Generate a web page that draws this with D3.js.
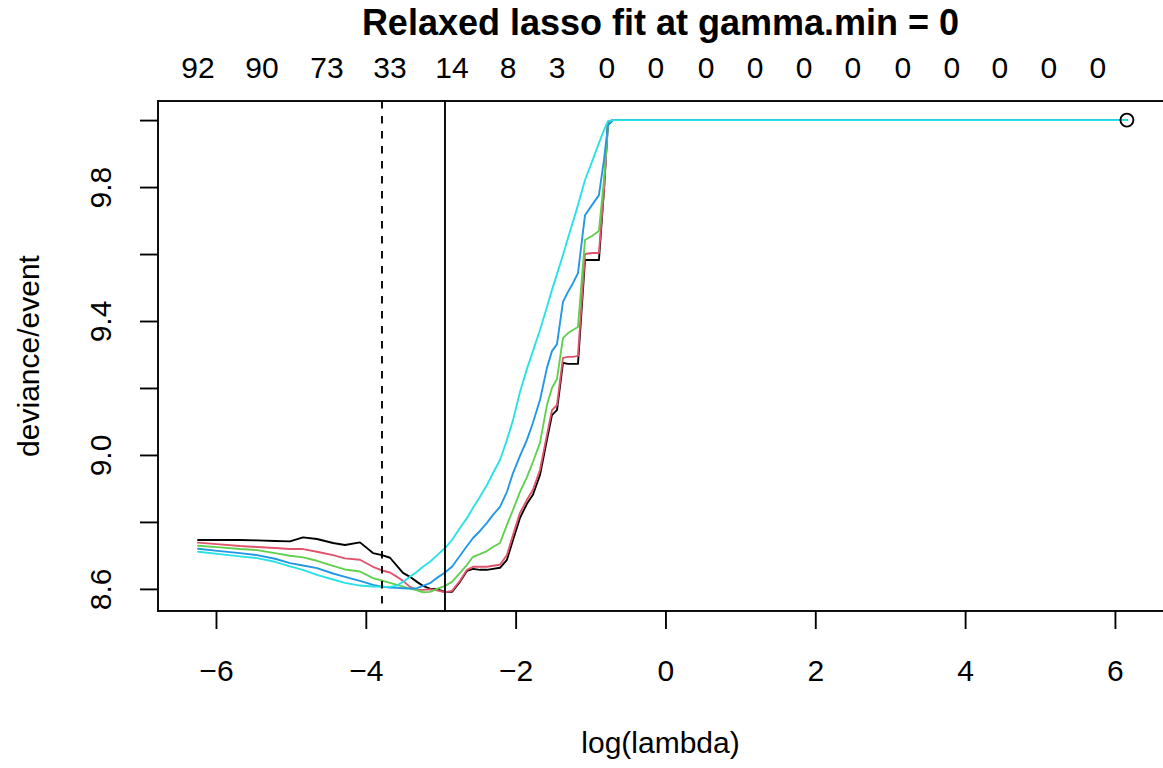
<!DOCTYPE html>
<html><head><meta charset="utf-8">
<script src="https://cdn.jsdelivr.net/npm/d3@7"></script>
<style>
body{margin:0;background:#fff}
svg{display:block}
text{font-family:"Liberation Sans",Arial,Helvetica,sans-serif;fill:#000}
</style>
</head><body><svg id="chart" width="1163" height="768"></svg>
<script>
// ---- data ----
const logLambda = [-6.240,-5.946,-5.679,-5.452,-5.212,-5.012,-4.838,-4.652,-4.438,-4.278,-4.078,-3.904,-3.784,-3.677,-3.584,-3.504,-3.410,-3.317,-3.237,-3.143,-3.050,-2.943,-2.850,-2.743,-2.649,-2.569,-2.476,-2.383,-2.302,-2.209,-2.116,-2.035,-1.942,-1.849,-1.769,-1.675,-1.582,-1.515,-1.448,-1.368,-1.301,-1.235,-1.168,-1.074,-0.981,-0.888,-0.821,-0.767,-0.701,6.160];
const devBlack = [8.746,8.746,8.746,8.745,8.743,8.742,8.754,8.749,8.737,8.731,8.739,8.707,8.701,8.693,8.669,8.648,8.636,8.621,8.609,8.601,8.599,8.591,8.591,8.621,8.654,8.660,8.657,8.657,8.660,8.663,8.687,8.746,8.812,8.854,8.881,8.940,9.045,9.119,9.134,9.275,9.272,9.272,9.272,9.582,9.582,9.582,9.791,9.994,10.000,10.000];
const devRed   = [8.738,8.733,8.728,8.725,8.722,8.719,8.719,8.711,8.701,8.691,8.687,8.666,8.655,8.649,8.636,8.624,8.606,8.597,8.597,8.599,8.596,8.590,8.594,8.624,8.657,8.666,8.666,8.666,8.669,8.672,8.701,8.761,8.827,8.866,8.896,8.955,9.060,9.134,9.149,9.290,9.293,9.293,9.296,9.600,9.603,9.603,9.791,9.994,10.000,10.000];
const devGreen = [8.729,8.724,8.719,8.716,8.707,8.699,8.694,8.684,8.669,8.658,8.652,8.632,8.625,8.618,8.612,8.607,8.601,8.596,8.590,8.591,8.600,8.609,8.621,8.648,8.672,8.696,8.704,8.713,8.725,8.737,8.791,8.836,8.890,8.934,8.979,9.036,9.149,9.200,9.227,9.349,9.364,9.373,9.382,9.642,9.654,9.669,9.821,9.985,10.000,10.000];
const devBlue  = [8.720,8.713,8.707,8.701,8.690,8.677,8.670,8.662,8.646,8.636,8.624,8.612,8.607,8.604,8.603,8.602,8.601,8.602,8.609,8.617,8.633,8.649,8.666,8.699,8.728,8.752,8.773,8.797,8.821,8.845,8.890,8.946,8.997,9.045,9.096,9.164,9.260,9.310,9.331,9.457,9.487,9.513,9.543,9.716,9.746,9.776,9.881,9.985,10.000,10.000];
const devCyan  = [8.711,8.704,8.697,8.692,8.681,8.667,8.657,8.642,8.628,8.618,8.610,8.607,8.606,8.606,8.610,8.621,8.636,8.651,8.666,8.681,8.700,8.722,8.746,8.782,8.812,8.842,8.875,8.910,8.946,8.985,9.045,9.104,9.188,9.257,9.310,9.373,9.442,9.493,9.540,9.597,9.648,9.696,9.746,9.821,9.875,9.931,9.970,9.997,10.000,10.000];
const seriesColors = ["#000000","#DF536B","#61D04F","#2297E6","#28E2E5"];

const xTicks = [-6,-4,-2,0,2,4,6];
const yTicks = [8.6,8.8,9.0,9.2,9.4,9.6,9.8,10.0];
const yTickLabels = ["8.6","","9.0","","9.4","","9.8",""];
const topLabelPos = [-6.240,-5.386,-4.519,-3.677,-2.850,-2.102,-1.448,-0.781,-0.127,0.541,1.195,1.849,2.503,3.170,3.824,4.465,5.119,5.773];
const topLabels = ["92","90","73","33","14","8","3","0","0","0","0","0","0","0","0","0","0","0"];
const vlineDashed = -3.784;
const vlineSolid = -2.943;
const endPoint = [6.160, 10.0];
const titleText = "Relaxed lasso fit at gamma.min = 0";
const xLabel = "log(lambda)";
const yLabel = "deviance/event";

// ---- layout ----
const W = 1163, H = 768;
const plot = {left:158, right:1164, top:101, bottom:611};
const LW = 1.875;

const svg = d3.select("#chart");
const x = d3.scaleLinear().domain([-6.774, 6.655]).range([plot.left, plot.right]);
const y = d3.scaleLinear().domain([8.534, 10.057]).range([plot.bottom, plot.top]);

// axes
const xAxis = d3.axisBottom(x).tickValues(xTicks).tickSize(18).tickPadding(10)
  .tickFormat(d3.format("d"));
const gx = svg.append("g").attr("transform", `translate(0,${plot.bottom})`).call(xAxis);
gx.select(".domain").remove();
gx.selectAll(".tick line").attr("stroke","#000").attr("stroke-width",LW);
gx.selectAll(".tick text").attr("font-size",30).attr("font-family",null).attr("dy",null)
  .attr("y",null).attr("transform","translate(0,70)");

const yAxis = d3.axisLeft(y).tickValues(yTicks).tickSize(18)
  .tickFormat((d,i)=>yTickLabels[i]);
const gy = svg.append("g").attr("transform", `translate(${plot.left},0)`).call(yAxis);
gy.select(".domain").remove();
gy.selectAll(".tick line").attr("stroke","#000").attr("stroke-width",LW);
gy.selectAll(".tick text").attr("font-size",30).attr("font-family",null)
  .attr("x",null).attr("dy",null).attr("text-anchor","middle")
  .attr("transform","translate(-47,0) rotate(-90)");

// top labels (number of nonzero coefficients)
svg.append("g").selectAll("text").data(topLabelPos).join("text")
  .attr("x", d=>x(d)).attr("y", 78).attr("text-anchor","middle").attr("font-size",30)
  .text((d,i)=>topLabels[i]);

// series lines
const series = [devBlack, devRed, devGreen, devBlue, devCyan];
const line = d3.line().x((d,i)=>x(logLambda[i])).y(d=>y(d));
svg.append("g").selectAll("path").data(series).join("path")
  .attr("d", d=>line(d)).attr("fill","none")
  .attr("stroke",(d,i)=>seriesColors[i]).attr("stroke-width",LW)
  .attr("stroke-linejoin","round").attr("stroke-linecap","round");

// vertical reference lines
svg.append("line").attr("x1",x(vlineDashed)).attr("x2",x(vlineDashed))
  .attr("y1",plot.top).attr("y2",plot.bottom).attr("stroke","#000")
  .attr("stroke-width",LW).attr("stroke-dasharray","7.5,7.5");
svg.append("line").attr("x1",x(vlineSolid)).attr("x2",x(vlineSolid))
  .attr("y1",plot.top).attr("y2",plot.bottom).attr("stroke","#000")
  .attr("stroke-width",LW);

// end point circle
svg.append("circle").attr("cx",x(endPoint[0])).attr("cy",y(endPoint[1])).attr("r",6.5)
  .attr("fill","none").attr("stroke","#000").attr("stroke-width",LW);

// box
svg.append("rect").attr("x",plot.left).attr("y",plot.top)
  .attr("width",plot.right-plot.left).attr("height",plot.bottom-plot.top)
  .attr("fill","none").attr("stroke","#000").attr("stroke-width",LW);

// titles
svg.append("text").attr("x",(plot.left+1163)/2).attr("y",35).attr("text-anchor","middle")
  .attr("font-size",36).attr("font-weight","bold").text(titleText);
svg.append("text").attr("x",(plot.left+1163)/2).attr("y",753).attr("text-anchor","middle")
  .attr("font-size",30).text(xLabel);
svg.append("text").attr("transform",`translate(39,${(plot.top+plot.bottom)/2}) rotate(-90)`)
  .attr("text-anchor","middle").attr("font-size",30).text(yLabel);
</script>
</body></html>
